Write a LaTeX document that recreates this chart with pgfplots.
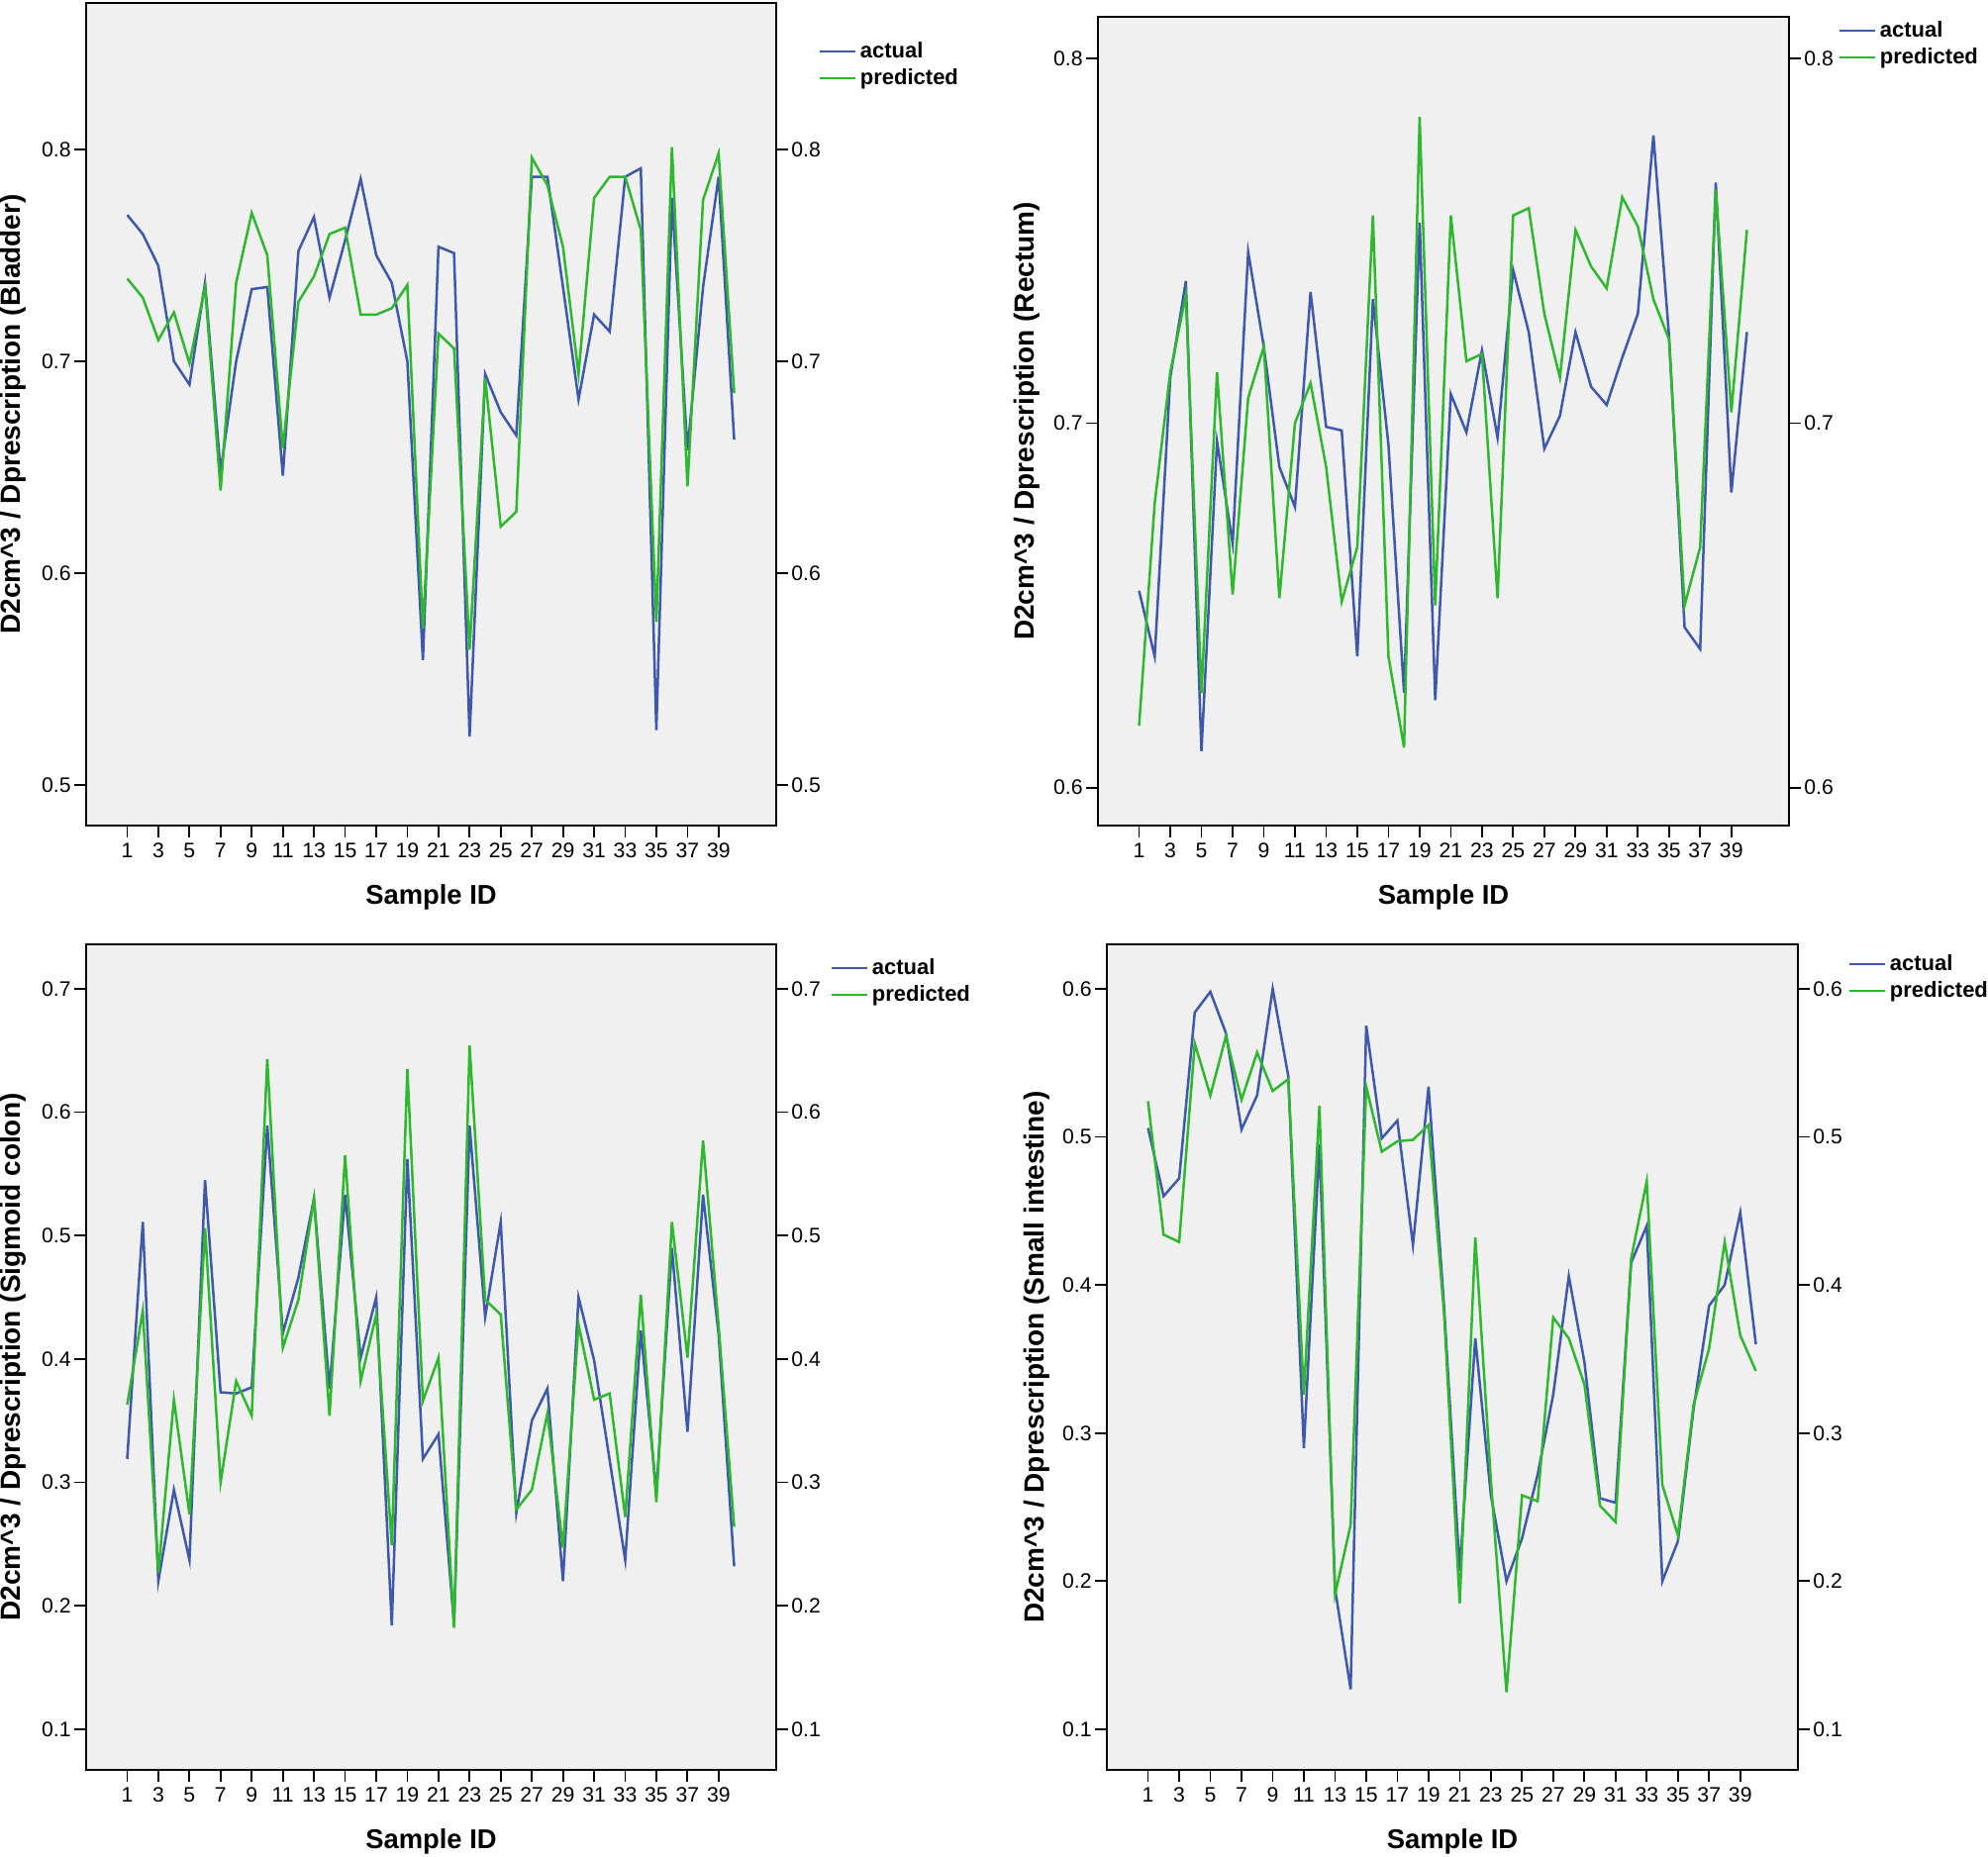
\documentclass[border=0pt]{standalone}
\usepackage{pgfplots}
\pgfplotsset{compat=1.18}
\usepackage{pgfplotstable}
\usepackage{fontspec}
\setmainfont{Liberation Sans}
\definecolor{actc}{RGB}{62,88,172}
\definecolor{prec}{RGB}{46,184,46}
\definecolor{bgc}{RGB}{240,240,240}

\pgfplotstableread{
x a p
1 0.769 0.739
2 0.760 0.730
3 0.745 0.710
4 0.700 0.723
5 0.689 0.699
6 0.737 0.735
7 0.648 0.639
8 0.700 0.737
9 0.734 0.770
10 0.735 0.750
11 0.646 0.659
12 0.752 0.728
13 0.768 0.740
14 0.730 0.760
15 0.757 0.763
16 0.786 0.722
17 0.750 0.722
18 0.737 0.725
19 0.700 0.736
20 0.559 0.574
21 0.754 0.713
22 0.751 0.706
23 0.523 0.564
24 0.694 0.692
25 0.676 0.622
26 0.665 0.629
27 0.787 0.796
28 0.787 0.783
29 0.735 0.754
30 0.682 0.694
31 0.722 0.777
32 0.714 0.787
33 0.787 0.787
34 0.791 0.762
35 0.526 0.577
36 0.777 0.801
37 0.658 0.641
38 0.735 0.776
39 0.787 0.798
40 0.663 0.685
}\bladder

\pgfplotstableread{
x a p
1 0.654 0.617
2 0.636 0.678
3 0.7125 0.714
4 0.739 0.735
5 0.610 0.626
6 0.695 0.714
7 0.667 0.653
8 0.747 0.707
9 0.721 0.721
10 0.688 0.652
11 0.677 0.700
12 0.736 0.711
13 0.699 0.688
14 0.698 0.651
15 0.636 0.666
16 0.734 0.757
17 0.694 0.636
18 0.626 0.611
19 0.755 0.784
20 0.624 0.650
21 0.708 0.757
22 0.6975 0.717
23 0.720 0.719
24 0.696 0.652
25 0.742 0.757
26 0.725 0.759
27 0.693 0.730
28 0.702 0.7125
29 0.725 0.753
30 0.710 0.743
31 0.705 0.737
32 0.718 0.762
33 0.730 0.754
34 0.779 0.734
35 0.724 0.723
36 0.644 0.650
37 0.638 0.666
38 0.766 0.764
39 0.681 0.703
40 0.725 0.753
}\rectum

\pgfplotstableread{
x a p
1 0.319 0.363
2 0.511 0.439
3 0.220 0.227
4 0.294 0.367
5 0.237 0.274
6 0.545 0.506
7 0.373 0.300
8 0.372 0.382
9 0.377 0.354
10 0.589 0.643
11 0.421 0.409
12 0.466 0.448
13 0.530 0.530
14 0.376 0.354
15 0.533 0.565
16 0.401 0.382
17 0.450 0.436
18 0.184 0.249
19 0.562 0.635
20 0.319 0.366
21 0.339 0.401
22 0.185 0.182
23 0.589 0.654
24 0.434 0.448
25 0.511 0.436
26 0.275 0.278
27 0.350 0.294
28 0.376 0.356
29 0.220 0.247
30 0.450 0.428
31 0.399 0.367
32 0.318 0.372
33 0.237 0.272
34 0.423 0.452
35 0.292 0.284
36 0.490 0.511
37 0.341 0.401
38 0.533 0.577
39 0.420 0.427
40 0.232 0.264
}\sigmoid

\pgfplotstableread{
x a p
1 0.506 0.524
2 0.460 0.434
3 0.472 0.429
4 0.584 0.563
5 0.598 0.528
6 0.570 0.568
7 0.505 0.525
8 0.528 0.557
9 0.600 0.531
10 0.541 0.539
11 0.290 0.326
12 0.495 0.521
13 0.195 0.191
14 0.127 0.238
15 0.575 0.534
16 0.499 0.490
17 0.511 0.497
18 0.427 0.498
19 0.534 0.508
20 0.385 0.380
21 0.207 0.185
22 0.364 0.432
23 0.258 0.268
24 0.200 0.125
25 0.229 0.258
26 0.272 0.254
27 0.326 0.378
28 0.406 0.364
29 0.348 0.333
30 0.256 0.251
31 0.253 0.240
32 0.415 0.418
33 0.440 0.470
34 0.200 0.265
35 0.227 0.231
36 0.316 0.319
37 0.386 0.357
38 0.400 0.429
39 0.449 0.366
40 0.360 0.342
}\smallint

\pgfplotsset{
  common/.style={
    scale only axis,
    anchor=south west,
    xmin=-1.64, xmax=42.7,
    tick align=outside,
    major tick length=6pt,
    axis line style={line width=0.9pt, black},
    tick style={line width=0.9pt, black},
    ticklabel style={font=\fontsize{10.6}{12}\selectfont, inner sep=1.5pt},
    /pgf/number format/assume math mode=true,
    yticklabel style={/pgf/number format/fixed, /pgf/number format/precision=1, /pgf/number format/fixed zerofill},
  },
  panel/.style={
    common,
    axis background/.style={fill=bgc},
    xtick={1,3,...,39},
    xtick pos=left,
    ytick pos=left,
    xticklabel style={yshift=-1.2pt},
    ylabshift/.initial=-37pt,
    every axis y label/.style={at={([xshift=\pgfkeysvalueof{/pgfplots/ylabshift}]axis description cs:0,0.5)}, rotate=90, anchor=center, font=\bfseries\fontsize{14}{16}\selectfont},
    every axis x label/.style={at={([yshift=-36pt]axis description cs:0.5,0)}, anchor=center, font=\bfseries\fontsize{13.7}{16}\selectfont},
    xlabel={Sample ID},
    legend cell align=left,
    legend image code/.code={\draw[#1] (0pt,0pt) -- (18pt,0pt);},
    legend style={draw=none, fill=none, inner sep=0pt, at={(1,1)}, anchor=north west, font=\bfseries\fontsize{11}{13}\selectfont, row sep=0pt},
  },
  rightax/.style={
    common,
    axis x line=none,
    axis y line*=right,
  },
  act/.style={actc, line width=1.25pt},
  pre/.style={prec, line width=1.25pt},
}

\begin{document}
\begin{tikzpicture}
\path[use as bounding box] (0pt,0pt) rectangle (1004pt,937.5pt);

% Panel 1: Bladder
\begin{axis}[panel, at={(43.5pt,520.5pt)}, width=348.5pt, height=415.5pt,
  ymin=0.481, ymax=0.869, ytick={0.5,0.6,0.7,0.8},
  ylabshift=-37pt,
  ylabel={D2cm\textasciicircum3 / Dprescription (Bladder)},
  legend style={xshift=21pt, yshift=-17.5pt}]
\addplot[act] table[x=x,y=a]{\bladder};
\addplot[pre] table[x=x,y=p]{\bladder};
\legend{actual,predicted}
\end{axis}
\begin{axis}[rightax, at={(43.5pt,520.5pt)}, width=348.5pt, height=415.5pt,
  ymin=0.481, ymax=0.869, ytick={0.5,0.6,0.7,0.8}]
\end{axis}

% Panel 2: Rectum
\begin{axis}[panel, at={(554.5pt,520.5pt)}, width=349pt, height=408.5pt,
  ymin=0.5896, ymax=0.8115, ytick={0.6,0.7,0.8},
  ylabshift=-36pt,
  ylabel={D2cm\textasciicircum3 / Dprescription (Rectum)},
  legend style={xshift=24.5pt, yshift=0pt}]
\addplot[act] table[x=x,y=a]{\rectum};
\addplot[pre] table[x=x,y=p]{\rectum};
\legend{actual,predicted}
\end{axis}
\begin{axis}[rightax, at={(554.5pt,520.5pt)}, width=349pt, height=408.5pt,
  ymin=0.5896, ymax=0.8115, ytick={0.6,0.7,0.8}]
\end{axis}

% Panel 3: Sigmoid colon
\begin{axis}[panel, at={(43.5pt,43.5pt)}, width=348.5pt, height=417pt,
  ymin=0.067, ymax=0.736, ytick={0.1,0.2,...,0.7},
  ylabshift=-37pt,
  ylabel={D2cm\textasciicircum3 / Dprescription (Sigmoid colon)},
  legend style={xshift=27pt, yshift=-5pt}]
\addplot[act] table[x=x,y=a]{\sigmoid};
\addplot[pre] table[x=x,y=p]{\sigmoid};
\legend{actual,predicted}
\end{axis}
\begin{axis}[rightax, at={(43.5pt,43.5pt)}, width=348.5pt, height=417pt,
  ymin=0.067, ymax=0.736, ytick={0.1,0.2,...,0.7}]
\end{axis}

% Panel 4: Small intestine
\begin{axis}[panel, at={(559pt,43.5pt)}, width=349pt, height=417pt,
  ymin=0.0726, ymax=0.630, ytick={0.1,0.2,...,0.6},
  ylabshift=-35.5pt,
  ylabel={D2cm\textasciicircum3 / Dprescription (Small intestine)},
  legend style={xshift=25pt, yshift=-3pt}]
\addplot[act] table[x=x,y=a]{\smallint};
\addplot[pre] table[x=x,y=p]{\smallint};
\legend{actual,predicted}
\end{axis}
\begin{axis}[rightax, at={(559pt,43.5pt)}, width=349pt, height=417pt,
  ymin=0.0726, ymax=0.630, ytick={0.1,0.2,...,0.6}]
\end{axis}
\end{tikzpicture}
\end{document}
